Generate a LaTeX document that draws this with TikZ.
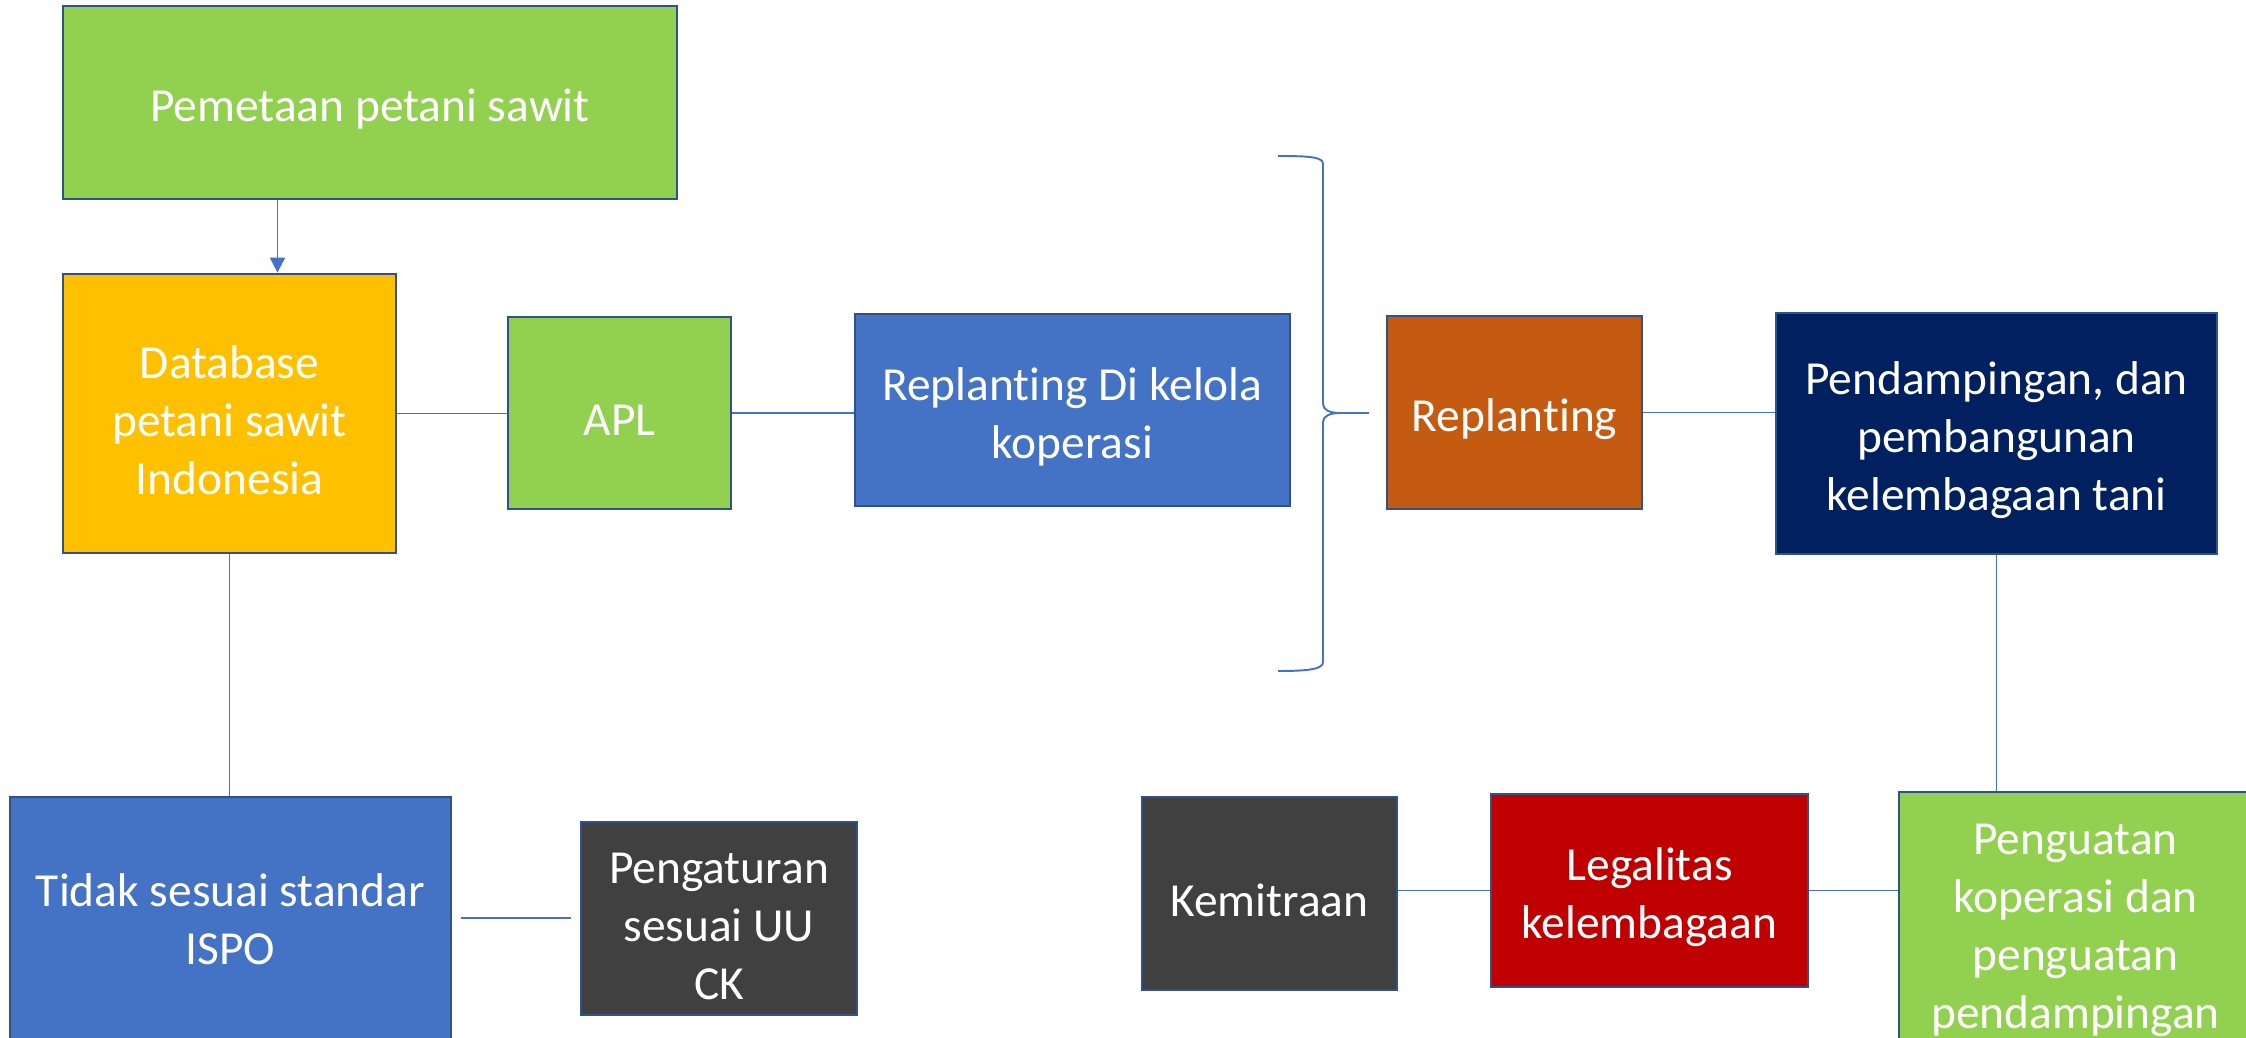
\documentclass[tikz,border=0pt]{standalone}
\usepackage{fontspec}
\setmainfont{Carlito}[Ligatures=CommonOff]
\usepackage{tikz}
\usetikzlibrary{arrows.meta,calc}
\definecolor{leafgreen}{RGB}{146,208,80}
\definecolor{goldbox}{RGB}{255,192,0}
\definecolor{officeblue}{RGB}{68,114,196}
\definecolor{rustbox}{RGB}{197,90,17}
\definecolor{navybox}{RGB}{0,32,96}
\definecolor{darkbox}{RGB}{64,64,64}
\definecolor{redbox}{RGB}{192,0,0}
\definecolor{boxborder}{RGB}{47,82,143}
\newcommand\boxfont{\fontsize{27}{33}\selectfont}
\newcommand\lift{\rule{0pt}{26pt}}

\begin{document}
\begin{tikzpicture}[
    x=0.02cm, y=-0.02cm,
    box/.style={rectangle, draw=boxborder, line width=1.6pt, text=white, align=center, inner sep=0pt, font=\boxfont},
    link/.style={draw=officeblue, line width=1.1pt},
    arrow/.style={link, -{Triangle[length=0.3cm, width=0.3cm]}}
]
    \useasboundingbox (0,0) rectangle (2246,1038);

    \node[box, fill=leafgreen, minimum width=12.28cm, minimum height=3.86cm] (pemetaan) at (370,102.5) {\lift Pemetaan petani sawit};
    \node[box, fill=goldbox, minimum width=6.66cm, minimum height=5.58cm] (database) at (229.5,413.5) {\lift Database\\petani sawit\\Indonesia};
    \node[box, fill=leafgreen, minimum width=4.46cm, minimum height=3.84cm] (apl) at (619.5,413) {\lift APL};
    \node[box, fill=officeblue, minimum width=8.7cm, minimum height=3.84cm] (koperasi) at (1072.5,410) {\lift Replanting Di kelola\\koperasi};
    \node[box, fill=rustbox, minimum width=5.1cm, minimum height=3.86cm] (replanting) at (1514.5,412.5) {\lift Replanting};
    \node[box, fill=navybox, minimum width=8.82cm, minimum height=4.82cm] (pendampingan) at (1996.5,433.5) {\lift Pendampingan, dan\\pembangunan\\kelembagaan tani};
    \node[box, fill=officeblue, minimum width=8.82cm, minimum height=4.9cm] (tidak) at (230.5,919.5) {Tidak sesuai standar\\ISPO};
    \node[box, fill=darkbox, minimum width=5.52cm, minimum height=3.86cm] (pengaturan) at (719,918.5) {\lift Pengaturan\\sesuai UU\\CK};
    \node[box, fill=darkbox, minimum width=5.1cm, minimum height=3.86cm] (kemitraan) at (1269.5,893.5) {\lift Kemitraan};
    \node[box, fill=redbox, minimum width=6.34cm, minimum height=3.86cm] (legalitas) at (1649.5,890.5) {\lift Legalitas\\kelembagaan};
    \node[box, fill=leafgreen, minimum width=7.06cm, minimum height=5.52cm] (penguatan) at (2075.5,930) {Penguatan\\koperasi dan\\penguatan\\pendampingan};

    \draw[arrow] ($(pemetaan.south west)!0.35!(pemetaan.south east)$) coordinate (drop) -- (drop |- database.north);
    \draw[link] (database.east) -- (database.east -| apl.west);
    \draw[link] (apl.east) -- (apl.east -| koperasi.west);
    \draw[link] (database.south) -- (database.south |- tidak.north);
    \draw[link, shorten <=0.18cm, shorten >=0.18cm] (tidak.east |- 0,918) -- (pengaturan.west |- 0,918);
    \draw[link] (replanting.east) -- (replanting.east -| pendampingan.west);
    \draw[link] (pendampingan.south) -- (pendampingan.south |- penguatan.north);
    \draw[link] (legalitas.east) -- (legalitas.east -| penguatan.west);
    \draw[link] (kemitraan.east |- legalitas.east) -- (legalitas.west);

    % brace
    \draw[link] (1278,156) .. controls (1310,156) and (1323,157) .. (1323,164)
        -- (1323,404) .. controls (1323,410) and (1330,413) .. (1340,413) -- (1369,413)
        (1340,413) .. controls (1330,413) and (1323,416) .. (1323,422)
        -- (1323,662) .. controls (1323,669) and (1310,671) .. (1278,671);
\end{tikzpicture}
\end{document}
